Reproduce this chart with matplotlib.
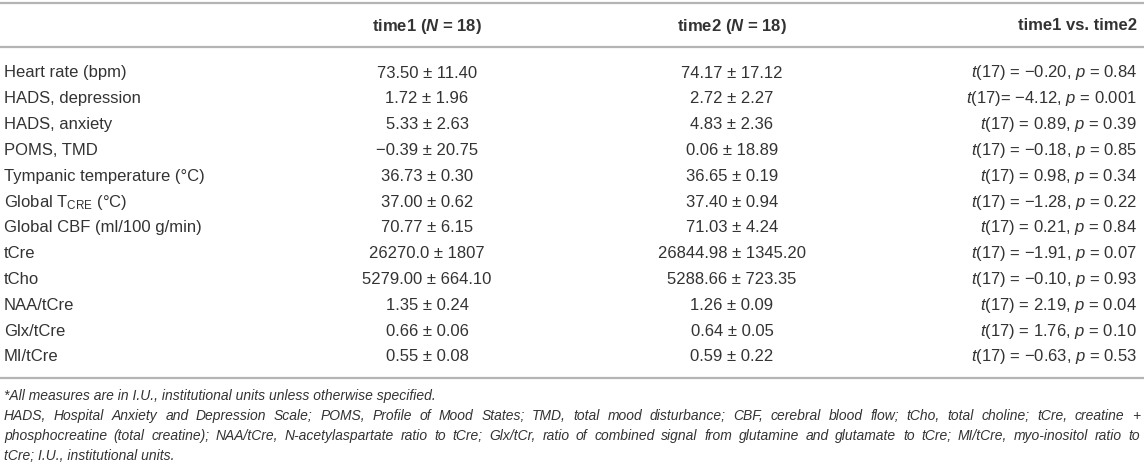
import matplotlib
matplotlib.use("Agg")
import matplotlib.pyplot as plt

plt.rcParams['mathtext.fontset'] = 'custom'
plt.rcParams['mathtext.rm'] = 'Liberation Sans'
plt.rcParams['mathtext.it'] = 'Liberation Sans:italic'
plt.rcParams['mathtext.bf'] = 'Liberation Sans:bold'
plt.rcParams['mathtext.bfit'] = 'Liberation Sans:italic:bold'

headers = ["", r"time1 ($\mathbfit{N}$ = 18)", r"time2 ($\mathbfit{N}$ = 18)", "time1 vs. time2"]
measures = ["Heart rate (bpm)", "HADS, depression", "HADS, anxiety", "POMS, TMD",
            "Tympanic temperature (°C)", r"Global T$_{\mathrm{CRE}}$ (°C)",
            "Global CBF (ml/100 g/min)", "tCre", "tCho", "NAA/tCre", "Glx/tCre", "MI/tCre"]
time1 = ["73.50 ± 11.40", "1.72 ± 1.96", "5.33 ± 2.63", "−0.39 ± 20.75", "36.73 ± 0.30",
         "37.00 ± 0.62", "70.77 ± 6.15", "26270.0 ± 1807", "5279.00 ± 664.10",
         "1.35 ± 0.24", "0.66 ± 0.06", "0.55 ± 0.08"]
time2 = ["74.17 ± 17.12", "2.72 ± 2.27", "4.83 ± 2.36", "0.06 ± 18.89", "36.65 ± 0.19",
         "37.40 ± 0.94", "71.03 ± 4.24", "26844.98 ± 1345.20", "5288.66 ± 723.35",
         "1.26 ± 0.09", "0.64 ± 0.05", "0.59 ± 0.22"]
tstat = ["−0.20", "−4.12", "0.89", "−0.18", "0.98", "−1.28", "0.21", "−1.91", "−0.10",
         "2.19", "1.76", "−0.63"]
pval = ["0.84", "0.001", "0.39", "0.85", "0.34", "0.22", "0.84", "0.07", "0.93",
        "0.04", "0.10", "0.53"]
eq_space = [True, False, True, True, True, True, True, True, True, True, True, True]

footnotes = [
    "*All measures are in I.U., institutional units unless otherwise specified.",
    "HADS, Hospital Anxiety and Depression Scale; POMS, Profile of Mood States; TMD, total mood disturbance; CBF, cerebral blood flow; tCho, total choline; tCre, creatine +",
    "phosphocreatine (total creatine); NAA/tCre, N-acetylaspartate ratio to tCre; Glx/tCr, ratio of combined signal from glutamine and glutamate to tCre; MI/tCre, myo-inositol ratio to",
    "tCre; I.U., institutional units.",
]
justify = [False, True, True, False]

W, H = 1144, 465
fig = plt.figure(figsize=(W / 100, H / 100), dpi=100)
ax = fig.add_axes([0, 0, 1, 1])
ax.set_xlim(0, W)
ax.set_ylim(H, 0)
ax.axis('off')
fig.canvas.draw()
renderer = fig.canvas.get_renderer()

TXT = '#333333'
LINE = '#b4b4b4'
FAM = 'Liberation Sans'


def width_of(s, size, **kw):
    t = ax.text(0, 0, s, fontsize=size, family=FAM, **kw)
    w = t.get_window_extent(renderer).width
    t.remove()
    return w


# calibrate sizes to the reference's measured text widths
FS = 10.0 * 83.0 / width_of("0.59 ± 0.22", 10.0)
FFS = 10.0 * 431.0 / width_of(footnotes[0], 10.0, style='italic')

x_label = 4
x_c1 = 427
x_c2 = 732
x_r = 1137
x_fr = 1140

# rules
for y in (3.5, 47.5, 378):
    ax.plot([0, W], [y, y], color=LINE, lw=1.6, solid_capstyle='butt')

# header
yh = 26
kw = dict(va='center', fontsize=FS, fontweight='bold', color=TXT, family=FAM)
ax.text(x_c1, yh, headers[1], ha='center', **kw)
ax.text(x_c2, yh, headers[2], ha='center', **kw)
ax.text(x_r, yh, headers[3], ha='right', **kw)

y0, dy = 73, 25.8
kw = dict(va='center', fontsize=FS, color=TXT, family=FAM)
for i, m in enumerate(measures):
    y = y0 + i * dy
    ax.text(x_label, y, m, ha='left', **kw)
    ax.text(x_c1, y, time1[i], ha='center', **kw)
    ax.text(x_c2, y, time2[i], ha='center', **kw)
    eq = " = " if eq_space[i] else "= "
    s = r"$t$(17)" + eq + tstat[i] + r", $p$ = " + pval[i]
    ax.text(x_r, y, s, ha='right', **kw)

# footnotes
fy = [396, 416, 436, 456]
fkw = dict(va='center', fontsize=FFS, style='italic', color=TXT, family=FAM)
for line, y, j in zip(footnotes, fy, justify):
    if not j:
        ax.text(x_label, y, line, ha='left', **fkw)
        continue
    words = line.split(' ')
    arts, widths = [], []
    for w in words:
        t = ax.text(0, y, w, ha='left', **fkw)
        widths.append(t.get_window_extent(renderer).width)
        arts.append(t)
    gap = (x_fr - x_label - sum(widths)) / (len(words) - 1)
    x = x_label
    for t, wd in zip(arts, widths):
        t.set_x(x)
        x += wd + gap

fig.savefig('out.png', dpi=100)
